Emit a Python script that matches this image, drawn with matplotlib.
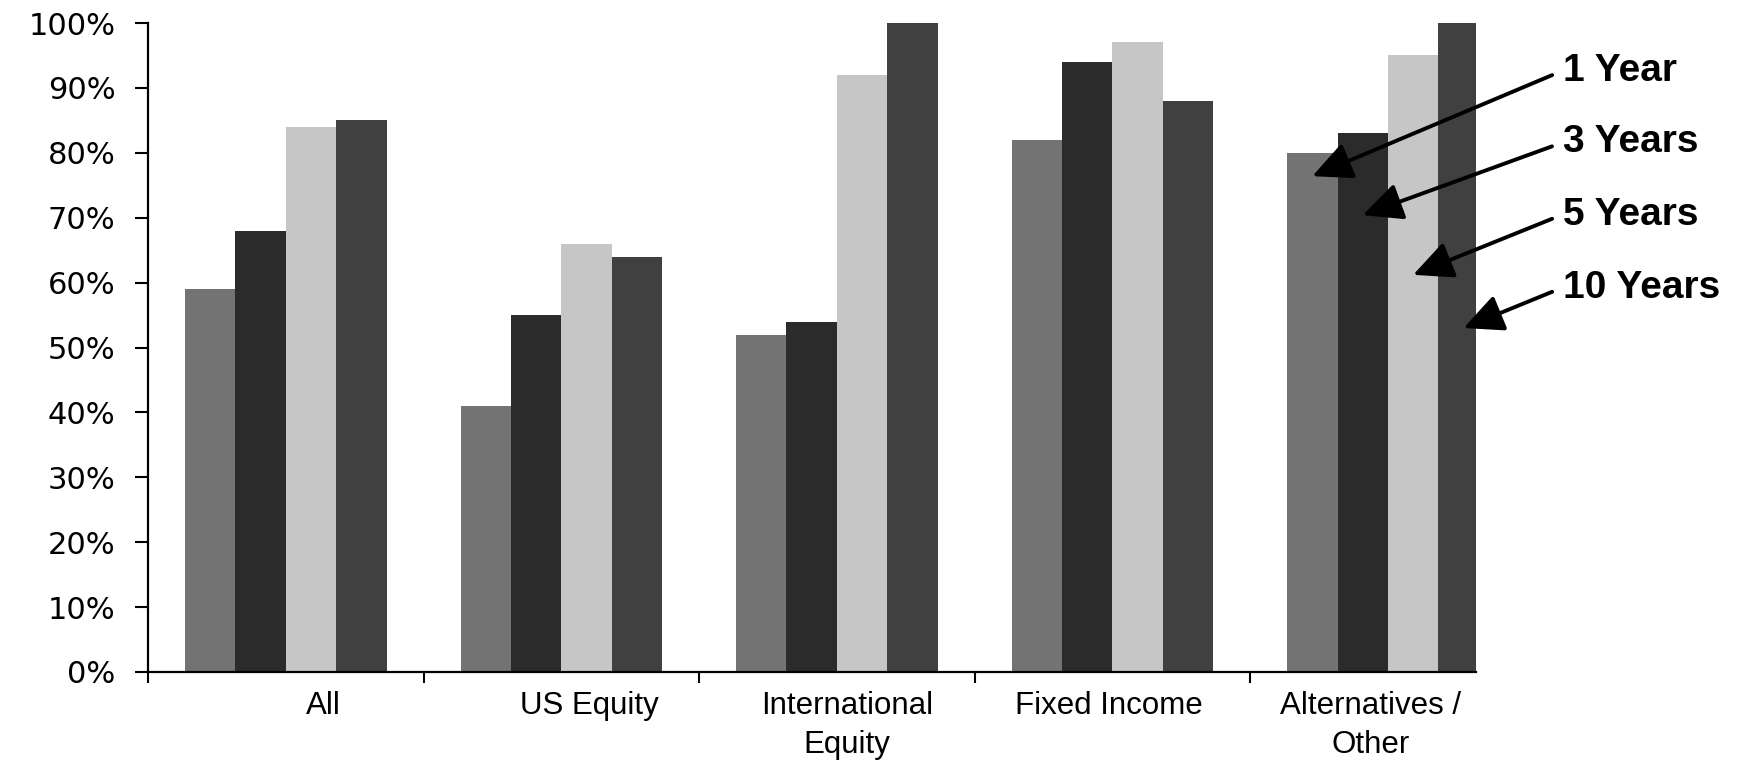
"""Share of funds outperforming, by asset class and horizon (grey bar chart)."""

import matplotlib.pyplot as plt
import numpy as np
from matplotlib.ticker import FuncFormatter

categories = ["All", "US Equity", "International\nEquity", "Fixed Income",
              "Alternatives /\nOther"]
horizons = ["1 Year", "3 Years", "5 Years", "10 Years"]

one_year = [59, 41, 52, 82, 80]
three_years = [68, 55, 54, 94, 83]
five_years = [84, 66, 92, 97, 95]
ten_years = [85, 64, 100, 88, 100]
series = [one_year, three_years, five_years, ten_years]

# where the labels sit under the axis (they are not centred on the categories)
label_pos = [0.635, 1.60, 2.537, 3.488, 4.436]
# heights (%) at which the legend arrows point into the last group
arrow_y = [76.4, 70.4, 61.2, 53.0]

colours = ["#737373", "#2b2b2b", "#c6c6c6", "#404040"]

plt.rcParams["font.family"] = ["Liberation Sans", "DejaVu Sans"]

fig = plt.figure(figsize=(17.44, 7.6), dpi=100)
ax = fig.add_axes([0.0849, 0.1158, 0.7612, 0.8539])

n_cat = len(categories)
bar_w = 0.183
x = np.arange(n_cat) + 0.5
for i, vals in enumerate(series):
    ax.bar(x + (i - 1.5) * bar_w, vals, width=bar_w, color=colours[i],
           linewidth=0, zorder=2)

ax.set_xlim(0, 4.818)
ax.set_ylim(0, 100)
ax.set_yticks(np.arange(0, 101, 10))
ax.yaxis.set_major_formatter(FuncFormatter(lambda v, _: f"{v:.0f}%"))
for lab in ax.get_yticklabels():
    lab.set_family("DejaVu Sans")
    lab.set_fontsize(22)
ax.tick_params(axis="y", direction="out", length=9.5, width=1.5, pad=14)

ax.set_xticks(np.arange(n_cat), minor=True)
ax.set_xticks(label_pos)
ax.set_xticklabels(categories, fontsize=22.5, linespacing=1.38)
ax.tick_params(axis="x", which="major", length=0, pad=14)
ax.tick_params(axis="x", which="minor", direction="out", length=8, width=1.5)

for side in ("top", "right"):
    ax.spines[side].set_visible(False)
for side in ("left", "bottom"):
    ax.spines[side].set_linewidth(1.6)
    ax.spines[side].set_color("black")

text_y = [0.907, 0.8125, 0.7177, 0.6217]
for i, name in enumerate(horizons):
    tip_x = x[-1] + (i - 1.5) * bar_w
    ax.annotate(
        name, xy=(tip_x, arrow_y[i]), xycoords="data",
        xytext=(0.896, text_y[i]), textcoords="figure fraction",
        fontsize=28, fontweight="bold", ha="left", va="center",
        annotation_clip=False,
        arrowprops=dict(arrowstyle="-|>,head_length=1.05,head_width=0.5",
                        mutation_scale=23, color="black", lw=2.8,
                        shrinkA=6, shrinkB=0, relpos=(0, 0.5)),
    )

fig.savefig("out.png", dpi=100)
